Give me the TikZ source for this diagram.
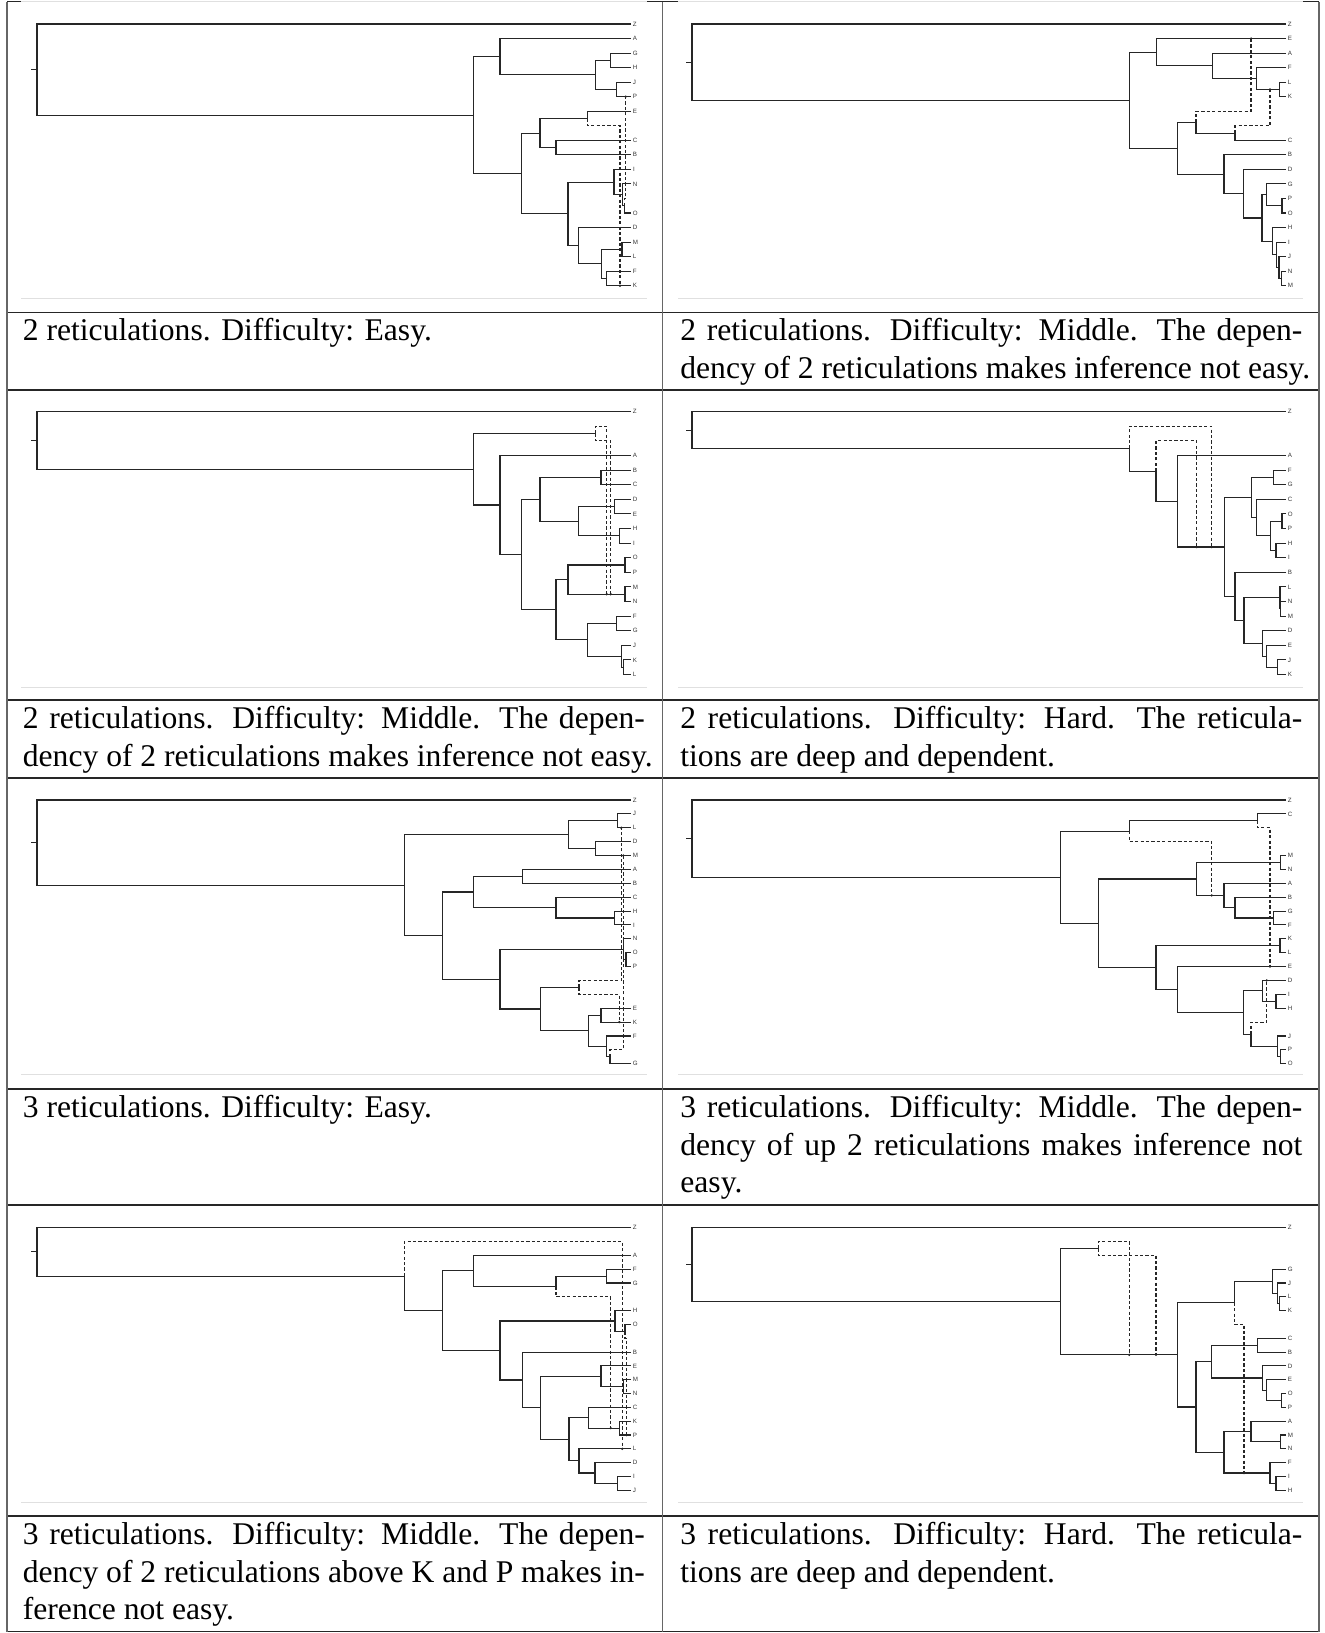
\documentclass[tikz,border=0pt]{standalone}
\usepackage{fontspec}
\setmainfont{Liberation Serif}
\newfontfamily\labfont{Liberation Sans}
\newcommand\TT{631}
\tikzset{
  br/.style={line width=0.55pt, draw=black!85},
  hyb/.style={line width=0.55pt, draw=black!85, dash pattern=on 1.6pt off 1.1pt},
  lab/.style={anchor=west, inner sep=0pt, font=\labfont\fontsize{3.1}{3.2}\selectfont, text=black!80},
  hrule/.style={line width=0.55pt, draw=black!85},
  vrule/.style={line width=0.55pt, draw=black!60},
  imgline/.style={line width=0.5pt, draw=black!12},
  captxt/.style={anchor=base west, inner sep=0pt, font=\fontsize{15.8}{18.85}\selectfont}
}
\newcommand\TBr[5]{\draw[br] (#2,#3) -| (#1,#5) -- (#4,#5);}
\newcommand\THf[4]{\draw[br] (#3,#4) -| (#1,#2);}
\newcommand\TPh[5]{\draw[hyb] (#1,#2) -- (#1,#3) -- (#4,#3) -- (#4,#5); \fill[black!85] (#4,#5) circle[radius=0.65pt];}
\newcommand\TRt[2]{\draw[br] (\TT,0) -| (37,#2) -- (#1,#2); \draw[br] (31,{#2/2}) -- (37,{#2/2});}
\newcommand\TLabs[2]{\foreach \r/\l in {#2} {\node[lab] (#1\l) at (\TT+1.5,\r) {\l};}}
\newcommand\Jl[1]{\makebox[311pt][s]{#1}}
\begin{document}
\begin{tikzpicture}[x=0.5pt,y=-0.5pt]
\useasboundingbox (0,0) rectangle (1325,1633);
% ---------- table frame ----------
\draw[imgline] (7,1.5) -- (1319,1.5);
\draw[hrule] (7,1.5) -- (21,1.5) (647,1.5) -- (678,1.5) (1303,1.5) -- (1319,1.5);
\foreach \yy in {312.3,390,700,778,1089,1205,1516,1631.5} {\draw[hrule] (7,\yy) -- (1319,\yy);}
\foreach \xx in {7,662.3,1319} {\draw[vrule] (\xx,1.5) -- (\xx,1631.5);}
\foreach \yy in {298,687.3,1074.3,1502.3} {\draw[imgline] (21,\yy) -- (647,\yy) (678,\yy) -- (1303,\yy);}
% ---------- tree 1 ----------
\begin{scope}[shift={(0,24)}, y={(0pt,-7.27pt)}]
\TRt{473.3}{6.27}
\TBr{473.3}{500}{2.25}{521.7}{10.28}
\TBr{500}{\TT}{1}{595.3}{3.5}
\TBr{595.3}{610.7}{2.5}{616.7}{4.5}
\TBr{610.7}{\TT}{2}{\TT}{3}
\TBr{616.7}{\TT}{4}{\TT}{5}
\TBr{521.7}{540}{7.5}{568}{13.06}
\TBr{540}{587.7}{6.5}{556}{8.5}
\THf{587.7}{6.5}{\TT}{6}
\TPh{587.7}{6.5}{7}{620}{18}
\TBr{556}{\TT}{8}{\TT}{9}
\TBr{568}{614}{10.875}{578.3}{15.25}
\TBr{614}{\TT}{10}{622.7}{11.75}
\TBr{622.7}{\TT}{11}{624.3}{12.5}
\THf{624.3}{12.5}{\TT}{13}
\TPh{624.3}{12.5}{12}{625.7}{5}
\TBr{578.3}{\TT}{14}{601.7}{16.5}
\TBr{601.7}{622}{15.5}{606.3}{17.5}
\TBr{622}{\TT}{15}{\TT}{16}
\TBr{606.3}{\TT}{17}{\TT}{18}
\TLabs{a}{0/Z,1/A,2/G,3/H,4/J,5/P,6/E,8/C,9/B,10/I,11/N,13/O,14/D,15/M,16/L,17/F,18/K}
\end{scope}
% ---------- tree 2 ----------
\begin{scope}[shift={(655,24)}, y={(0pt,-7.27pt)}]
\TRt{474.3}{5.24}
\TBr{474.3}{501.7}{1.94}{522.7}{8.54}
\TBr{501.7}{\TT}{1}{557.7}{2.875}
\TBr{557.7}{\TT}{2}{601.7}{3.75}
\TBr{601.7}{\TT}{3}{624.3}{4.5}
\TBr{624.3}{\TT}{4}{\TT}{5}
\TBr{522.7}{541}{6.75}{569}{10.33}
\THf{541}{6.75}{580}{7.5}
\TPh{541}{6.75}{6}{596}{1}
\THf{580}{7.5}{\TT}{8}
\TPh{580}{7.5}{7}{615}{4.5}
\TBr{569}{\TT}{9}{588.3}{11.67}
\TBr{588.3}{\TT}{10}{607}{13.34}
\TBr{607}{611.7}{11.75}{617.7}{14.94}
\TBr{611.7}{\TT}{11}{627}{12.5}
\TBr{627}{\TT}{12}{\TT}{13}
\TBr{617.7}{\TT}{14}{621.7}{15.875}
\TBr{621.7}{\TT}{15}{624}{16.75}
\TBr{624}{\TT}{16}{626.7}{17.5}
\TBr{626.7}{\TT}{17}{\TT}{18}
\TLabs{b}{0/Z,1/E,2/A,3/F,4/L,5/K,8/C,9/B,10/D,11/G,12/P,13/O,14/H,15/I,16/J,17/N,18/M}
\end{scope}
% ---------- tree 3 ----------
\begin{scope}[shift={(0,411.7)}, y={(0pt,-7.3pt)}]
\TRt{473.3}{3.95}
\TBr{473.3}{595.3}{1.5}{500}{6.39}
\TPh{595.3}{1.5}{1}{606.7}{12.5}
\TPh{595.3}{1.5}{2}{610.7}{12.5}
\TBr{500}{\TT}{3}{521.7}{9.78}
\TBr{521.7}{540}{6}{556}{13.56}
\TBr{540}{601}{4.5}{578.3}{7.5}
\TBr{601}{\TT}{4}{\TT}{5}
\TBr{578.3}{614.3}{6.5}{619.3}{8.5}
\TBr{614.3}{\TT}{6}{\TT}{7}
\TBr{619.3}{\TT}{8}{\TT}{9}
\TBr{556}{568}{11.5}{587.7}{15.625}
\TBr{568}{625}{10.5}{625}{12.5}
\TBr{625}{\TT}{10}{\TT}{11}
\TBr{625}{\TT}{12}{\TT}{13}
\TBr{587.7}{616.7}{14.5}{621.7}{16.75}
\TBr{616.7}{\TT}{14}{\TT}{15}
\TBr{621.7}{\TT}{16}{623.3}{17.5}
\TBr{623.3}{\TT}{17}{\TT}{18}
\TLabs{c}{0/Z,3/A,4/B,5/C,6/D,7/E,8/H,9/I,10/O,11/P,12/M,13/N,14/F,15/G,16/J,17/K,18/L}
\end{scope}
% ---------- tree 4 ----------
\begin{scope}[shift={(655,411.7)}, y={(0pt,-7.3pt)}]
\TRt{474.3}{2.53}
\THf{474.3}{2.53}{501}{4.07}
\TPh{474.3}{2.53}{1}{556.7}{9.27}
\THf{501}{4.07}{522.7}{6.13}
\TPh{501}{4.07}{2}{541.7}{9.27}
\TBr{522.7}{\TT}{3}{569.3}{9.27}
\TBr{569.3}{596.7}{5.875}{580}{12.66}
\TBr{596.7}{618.3}{4.5}{601.7}{7.25}
\TBr{618.3}{\TT}{4}{\TT}{5}
\TBr{601.7}{\TT}{6}{615.7}{8.5}
\TBr{615.7}{627}{7.5}{621}{9.5}
\TBr{627}{\TT}{7}{\TT}{8}
\TBr{621}{\TT}{9}{\TT}{10}
\TBr{580}{\TT}{11}{589}{14.31}
\TBr{589}{625}{12.75}{607.7}{15.875}
\TBr{625}{\TT}{12}{625.7}{13.5}
\TBr{625.7}{\TT}{13}{\TT}{14}
\TBr{607.7}{\TT}{15}{611.7}{16.75}
\TBr{611.7}{\TT}{16}{622.7}{17.5}
\TBr{622.7}{\TT}{17}{\TT}{18}
\TLabs{d}{0/Z,3/A,4/F,5/G,6/C,7/O,8/P,9/H,10/I,11/B,12/L,13/N,14/M,15/D,16/E,17/J,18/K}
\end{scope}
% ---------- tree 5 ----------
\begin{scope}[shift={(0,800)}, y={(0pt,-6.94pt)}]
\TRt{404.3}{6.13}
\TBr{404.3}{568.3}{2.5}{442.3}{9.76}
\TBr{568.3}{617.3}{1.5}{595.7}{3.5}
\TBr{617.3}{\TT}{1}{\TT}{2}
\TBr{595.7}{\TT}{3}{\TT}{4}
\TBr{442.3}{473.3}{6.625}{500}{12.9}
\TBr{473.3}{522.3}{5.5}{556}{7.75}
\TBr{522.3}{\TT}{5}{\TT}{6}
\TBr{556}{\TT}{7}{614.3}{8.5}
\TBr{614.3}{\TT}{8}{\TT}{9}
\TBr{500}{623.3}{10.75}{540.7}{15.06}
\TBr{623.3}{\TT}{10}{626}{11.5}
\TBr{626}{\TT}{11}{\TT}{12}
\TBr{540.7}{579}{13.5}{588.3}{16.625}
\TPh{579}{13.5}{13}{621.3}{2}
\TPh{579}{13.5}{14}{619.3}{16}
\TBr{588.3}{601}{15.5}{606.7}{17.75}
\TBr{601}{\TT}{15}{\TT}{16}
\TBr{606.7}{\TT}{17}{610}{18.5}
\THf{610}{18.5}{\TT}{19}
\TPh{610}{18.5}{18}{623.3}{4}
\TLabs{e}{0/Z,1/J,2/L,3/D,4/M,5/A,6/B,7/C,8/H,9/I,10/N,11/O,12/P,15/E,16/K,17/F,19/G}
\end{scope}
% ---------- tree 6 ----------
\begin{scope}[shift={(655,800)}, y={(0pt,-6.94pt)}]
\TRt{405.7}{5.57}
\TBr{405.7}{474.3}{2.25}{443.3}{8.885}
\THf{474.3}{2.25}{602.3}{1.5}
\TPh{474.3}{2.25}{3}{556.7}{6.875}
\THf{602.3}{1.5}{\TT}{1}
\TPh{602.3}{1.5}{2}{615}{12}
\TBr{443.3}{541.7}{5.69}{501}{12.08}
\TBr{541.7}{625.7}{4.5}{569}{6.875}
\TBr{625.7}{\TT}{4}{\TT}{5}
\TBr{569}{\TT}{6}{580}{7.75}
\TBr{580}{\TT}{7}{618.3}{8.5}
\TBr{618.3}{\TT}{8}{\TT}{9}
\TBr{501}{625}{10.5}{522.7}{13.66}
\TBr{625}{\TT}{10}{\TT}{11}
\TBr{522.7}{\TT}{12}{588.3}{15.31}
\TBr{588.3}{607.7}{13.75}{596}{16.875}
\TBr{607.7}{\TT}{13}{621}{14.5}
\TBr{621}{\TT}{14}{\TT}{15}
\THf{596}{16.875}{622.3}{17.75}
\TPh{596}{16.875}{16}{611.7}{13}
\TBr{622.3}{\TT}{17}{625.7}{18.5}
\TBr{625.7}{\TT}{18}{\TT}{19}
\TLabs{f}{0/Z,1/C,4/M,5/N,6/A,7/B,8/G,9/F,10/K,11/L,12/E,13/D,14/I,15/H,17/J,18/P,19/O}
\end{scope}
% ---------- tree 7 ----------
\begin{scope}[shift={(0,1227.7)}, y={(0pt,-6.91pt)}]
\TRt{404.3}{3.5}
\THf{404.3}{3.5}{442.3}{6}
\TPh{404.3}{3.5}{1}{622.3}{16}
\TBr{442.3}{473.3}{3.125}{500}{8.88}
\TBr{473.3}{\TT}{2}{556}{4.25}
\THf{556}{4.25}{606.7}{3.5}
\TPh{556}{4.25}{5}{610.7}{14.5}
\TBr{606.7}{\TT}{3}{\TT}{4}
\TBr{500}{615}{6.75}{522.3}{11.02}
\TBr{615}{\TT}{6}{625}{7.5}
\THf{625}{7.5}{\TT}{7}
\TPh{625}{7.5}{8}{626.5}{15}
\TBr{522.3}{\TT}{9}{540.7}{13.03}
\TBr{540.7}{601}{10.75}{569}{15.31}
\TBr{601}{\TT}{10}{623.3}{11.5}
\TBr{623.3}{\TT}{11}{\TT}{12}
\TBr{569}{588.3}{13.75}{579}{16.875}
\TBr{588.3}{\TT}{13}{619.3}{14.5}
\TBr{619.3}{\TT}{14}{\TT}{15}
\TBr{579}{\TT}{16}{595}{17.75}
\TBr{595}{\TT}{17}{617.3}{18.5}
\TBr{617.3}{\TT}{18}{\TT}{19}
\TLabs{g}{0/Z,2/A,3/F,4/G,6/H,7/O,9/B,10/E,11/M,12/N,13/C,14/K,15/P,16/L,17/D,18/I,19/J}
\end{scope}
% ---------- tree 8 ----------
\begin{scope}[shift={(655,1227.7)}, y={(0pt,-6.91pt)}]
\TRt{405.7}{5.35}
\TBr{405.7}{443.3}{1.5}{522.7}{9.2}
\TPh{443.3}{1.5}{1}{474.3}{9.2}
\TPh{443.3}{1.5}{2}{501}{9.2}
\TBr{522.7}{579.3}{5.44}{541}{12.97}
\THf{579.3}{5.44}{617.3}{3.875}
\TPh{579.3}{5.44}{7}{589}{17.75}
\TBr{617.3}{\TT}{3}{622.7}{4.75}
\TBr{622.7}{\TT}{4}{624.3}{5.5}
\TBr{624.3}{\TT}{5}{\TT}{6}
\TBr{541}{556.7}{9.69}{569}{16.25}
\TBr{556.7}{602.3}{8.5}{607.3}{10.875}
\TBr{602.3}{\TT}{8}{\TT}{9}
\TBr{607.3}{\TT}{10}{611.7}{11.75}
\TBr{611.7}{\TT}{11}{626.7}{12.5}
\TBr{626.7}{\TT}{12}{\TT}{13}
\TBr{569}{596}{14.75}{615}{17.75}
\TBr{596}{\TT}{14}{625.7}{15.5}
\TBr{625.7}{\TT}{15}{\TT}{16}
\TBr{615}{\TT}{17}{621}{18.5}
\TBr{621}{\TT}{18}{\TT}{19}
\TLabs{h}{0/Z,3/G,4/J,5/L,6/K,8/C,9/B,10/D,11/E,12/O,13/P,14/A,15/M,16/N,17/F,18/I,19/H}
\end{scope}
% ---------- captions ----------
\node[captxt] (c1) at (22.5,340.6) {2 reticulations. Difficulty: Easy.};
\node[captxt] (c2a) at (680,340.6) {\Jl{2 reticulations. Difficulty: Middle. The depen-}};
\node[captxt] (c2b) at (680,378.3) {dency of 2 reticulations makes inference not easy.};
\node[captxt] (c3a) at (22.5,728.3) {\Jl{2 reticulations. Difficulty: Middle. The depen-}};
\node[captxt] (c3b) at (22.5,766) {dency of 2 reticulations makes inference not easy.};
\node[captxt] (c4a) at (680,728.3) {\Jl{2 reticulations. Difficulty: Hard. The reticula-}};
\node[captxt] (c4b) at (680,766) {tions are deep and dependent.};
\node[captxt] (c5) at (22.5,1117.3) {3 reticulations. Difficulty: Easy.};
\node[captxt] (c6a) at (680,1117.3) {\Jl{3 reticulations. Difficulty: Middle. The depen-}};
\node[captxt] (c6b) at (680,1155) {\Jl{dency of up 2 reticulations makes inference not}};
\node[captxt] (c6c) at (680,1192.7) {easy.};
\node[captxt] (c7a) at (22.5,1544.3) {\Jl{3 reticulations. Difficulty: Middle. The depen-}};
\node[captxt] (c7b) at (22.5,1582) {\Jl{dency of 2 reticulations above K and P makes in-}};
\node[captxt] (c7c) at (22.5,1619.7) {ference not easy.};
\node[captxt] (c8a) at (680,1544.3) {\Jl{3 reticulations. Difficulty: Hard. The reticula-}};
\node[captxt] (c8b) at (680,1582) {tions are deep and dependent.};
\end{tikzpicture}
\end{document}
